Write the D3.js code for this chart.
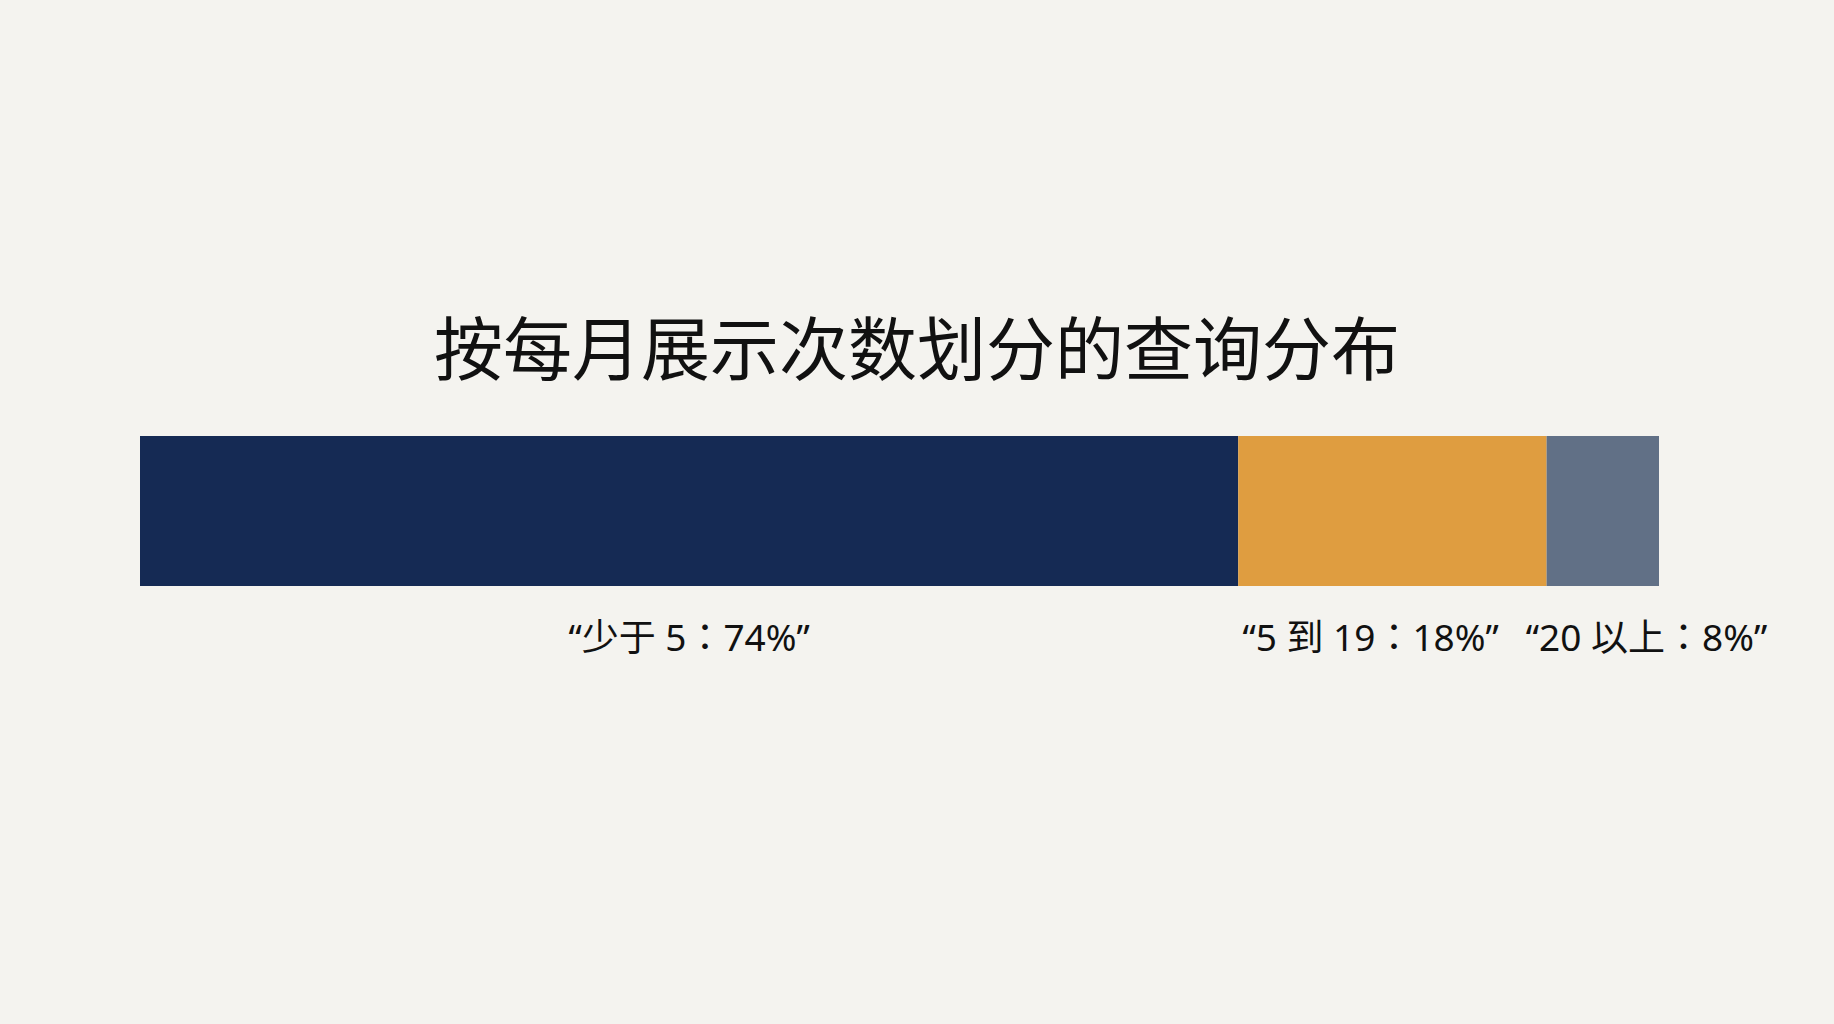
<!DOCTYPE html>
<html>
<head>
<meta charset="utf-8">
<script src="https://cdn.jsdelivr.net/npm/d3@7/dist/d3.min.js"></script>
<style>
  html, body { margin: 0; padding: 0; background: #f4f3ef; }
  svg { display: block; }
</style>
</head>
<body>
<svg id="chart" width="1834" height="1024"></svg>
<script>
// ---- data ----
const title = "按每月展示次数划分的查询分布";
const categories = ["少于 5", "5 到 19", "20 以上"];
const labelPercents = [74, 18, 8];          // as printed in the labels
const barShares = [72.3, 20.3, 7.4];        // segment lengths as drawn in the bar
const colors = ["#152a54", "#df9d40", "#617086"];

// ---- layout ----
const W = 1834, H = 1024;
const barLeft = 140, barRight = 1659, barTop = 436, barBottom = 586;
const labelBaseline = 651, labelGap = 27;

const svg = d3.select("#chart");
svg.append("rect").attr("width", W).attr("height", H).attr("fill", "#f4f3ef");

const titleFont = "'Noto Sans CJK SC', 'Noto Sans', sans-serif";
const labelFont = "'Noto Sans', 'Noto Sans CJK TC', 'Noto Sans CJK SC', sans-serif";

svg.append("text")
  .attr("x", W / 2)
  .attr("y", 375)
  .attr("text-anchor", "middle")
  .attr("font-family", titleFont)
  .attr("font-size", 69)
  .attr("fill", "#111")
  .text(title);

const total = d3.sum(barShares);
const x = d3.scaleLinear().domain([0, total]).range([barLeft, barRight]);

const stackData = [];
let acc = 0;
barShares.forEach((v, i) => {
  stackData.push({ i, x0: acc, x1: acc + v });
  acc += v;
});

svg.append("g").selectAll("rect")
  .data(stackData)
  .join("rect")
  .attr("x", d => x(d.x0))
  .attr("y", barTop)
  .attr("width", d => x(d.x1) - x(d.x0))
  .attr("height", barBottom - barTop)
  .attr("fill", d => colors[d.i]);

const labels = svg.append("g").selectAll("text")
  .data(stackData)
  .join("text")
  .attr("x", d => (x(d.x0) + x(d.x1)) / 2)
  .attr("y", labelBaseline)
  .attr("text-anchor", "middle")
  .attr("font-family", labelFont)
  .attr("font-size", 37)
  .attr("fill", "#111")
  .text(d => "\u201C" + categories[d.i] + "\uFF1A" + labelPercents[d.i] + "%\u201D");

// simple overlap resolution between neighbouring labels
function layoutLabels() {
  const nodes = labels.nodes();
  const centers = stackData.map(d => (x(d.x0) + x(d.x1)) / 2);
  const widths = nodes.map(n => n.getBBox().width);
  for (let k = 1; k < nodes.length; k++) {
    const need = widths[k - 1] / 2 + widths[k] / 2 + labelGap;
    const have = centers[k] - centers[k - 1];
    if (have < need) {
      const deficit = need - have;
      centers[k - 1] -= deficit / 3;
      centers[k] += deficit * 2 / 3;
    }
  }
  labels.attr("x", (d, i) => centers[i]);
}
layoutLabels();
if (document.fonts && document.fonts.ready) document.fonts.ready.then(layoutLabels);
</script>
</body>
</html>
